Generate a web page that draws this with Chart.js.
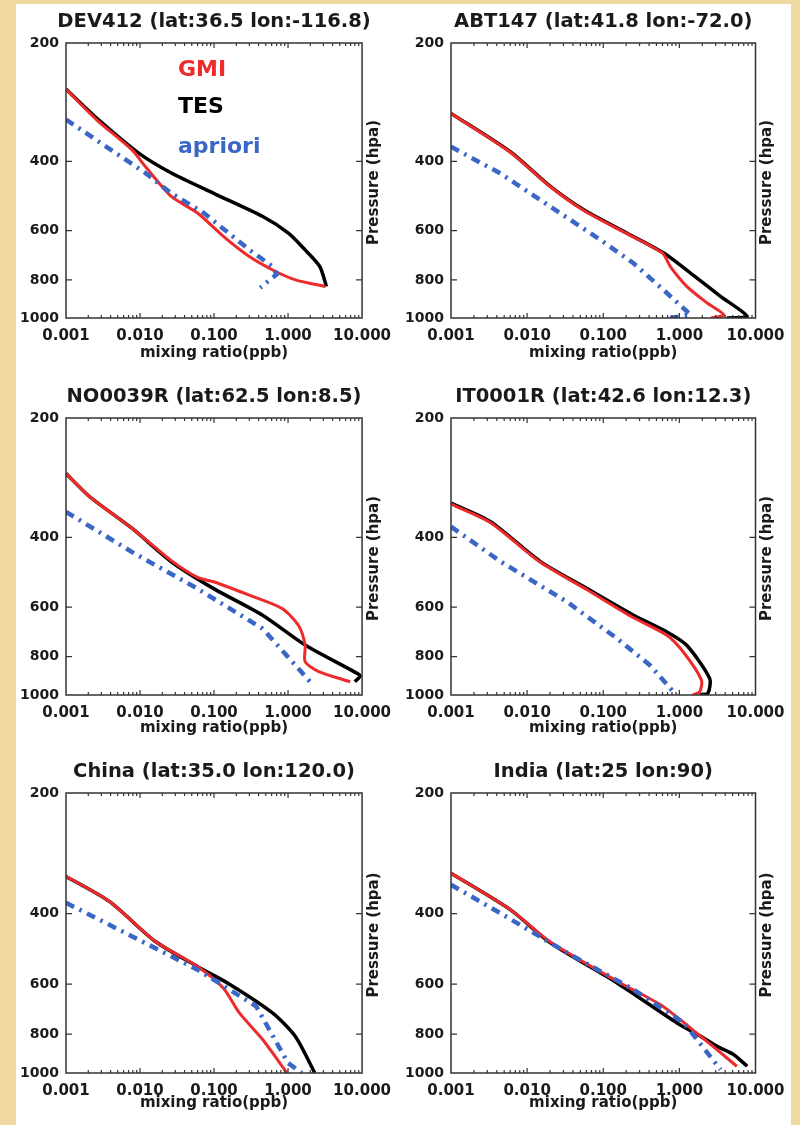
<!DOCTYPE html>
<html>
<head>
<meta charset="utf-8">
<script src="https://cdn.jsdelivr.net/npm/chart.js@4.4.0/dist/chart.umd.min.js"></script>
<style>
  html, body { margin: 0; padding: 0; }
  body { width: 800px; height: 1125px; background: #f0d9a0; position: relative; overflow: hidden; }
  #sheet { position: absolute; left: 16px; top: 4px; width: 775px; height: 1121px; background: #fff; }
  canvas { position: absolute; }
</style>
</head>
<body>
<div id="sheet"></div>
<script>
const FONT = '"DejaVu Sans", "Liberation Sans", sans-serif';

const xTicks = [0.001, 0.01, 0.1, 1, 10];
const yTicks = [200, 400, 600, 800, 1000];
const yInnerTicks = [400, 600, 800];
const decades = [0.001, 0.01, 0.1, 1];

// DEV412
const devTesX = [0.001, 0.00257, 0.0096, 0.0265, 0.099, 0.456, 1.02, 1.7, 2.69, 3.3];
const devTesP = [262, 310, 381, 428, 482, 552, 609, 671, 740, 832];
const devGmiX = [0.001, 0.00257, 0.0078, 0.0118, 0.0265, 0.0598, 0.135, 0.30, 0.62, 1.26, 3.2];
const devGmiP = [262, 313, 374, 412, 491, 541, 621, 698, 755, 800, 832];
const devAprX = [0.001, 0.0118, 0.0265, 0.073, 0.30, 0.62, 0.70, 0.42];
const devAprP = [313, 428, 482, 541, 671, 740, 775, 838];

// ABT147
const abtTesX = [0.001, 0.006, 0.0202, 0.0554, 0.206, 0.624, 1.4, 3.47, 7.77, 4.2];
const abtTesP = [302, 378, 463, 531, 609, 684, 769, 881, 991, 1000];
const abtGmiX = [0.001, 0.006, 0.0202, 0.0554, 0.206, 0.60, 0.76, 1.26, 2.32, 3.84, 2.6];
const abtGmiP = [302, 379, 464, 533, 611, 684, 740, 832, 916, 982, 1000];
const abtAprX = [0.001, 0.00445, 0.0202, 0.0918, 0.25, 0.69, 1.4, 0.76];
const abtAprP = [367, 429, 521, 633, 726, 865, 981, 1000];

// NO0039R
const noTesX = [0.001, 0.00209, 0.00784, 0.0265, 0.099, 0.453, 1.7, 7.77, 9.4, 8.0];
const noTesP = [276, 316, 380, 461, 539, 629, 748, 873, 895, 926];
const noGmiX = [0.001, 0.00209, 0.00784, 0.0265, 0.06, 0.099, 0.30, 0.83, 1.38, 1.7, 1.7, 2.6, 6.9];
const noGmiP = [276, 316, 380, 458, 505, 518, 560, 605, 667, 748, 824, 873, 926];
const noAprX = [0.001, 0.00784, 0.0596, 0.453, 2.08];
const noAprP = [345, 436, 539, 680, 935];

// IT0001R
const itTesX = [0.001, 0.00327, 0.0148, 0.0605, 0.247, 0.676, 1.24, 2.5, 2.37, 1.85];
const itTesP = [328, 365, 460, 538, 628, 692, 748, 908, 990, 1000];
const itGmiX = [0.001, 0.00327, 0.0148, 0.0605, 0.23, 0.676, 1.12, 1.95, 1.85, 1.5];
const itGmiP = [330, 367, 462, 542, 633, 706, 778, 917, 981, 1000];
const itAprX = [0.001, 0.00443, 0.033, 0.15, 0.41, 0.91];
const itAprP = [376, 460, 581, 719, 841, 1000];

// China
const chTesX = [0.001, 0.00385, 0.016, 0.0596, 0.164, 0.616, 1.25, 2.3];
const chTesP = [323, 373, 469, 542, 601, 708, 810, 1000];
const chGmiX = [0.001, 0.00385, 0.016, 0.0596, 0.134, 0.22, 0.453, 0.97];
const chGmiP = [323, 373, 469, 542, 614, 708, 825, 1000];
const chAprX = [0.001, 0.00784, 0.0596, 0.37, 1.0, 1.53];
const chAprP = [376, 456, 552, 681, 944, 1000];

// India
const inTesX = [0.001, 0.006, 0.0202, 0.152, 0.93, 1.89, 3.14, 5.19, 7.77];
const inTesP = [317, 391, 473, 596, 750, 809, 858, 900, 962];
const inGmiX = [0.001, 0.006, 0.0202, 0.152, 0.56, 1.89, 5.7];
const inGmiP = [317, 391, 471, 590, 675, 809, 962];
const inAprX = [0.001, 0.00445, 0.0335, 0.25, 1.15, 3.47];
const inAprP = [339, 399, 501, 619, 750, 981];

const panels = [
  { title: 'DEV412 (lat:36.5 lon:-116.8)', col: 0, row: 0, legend: true,
    tes: [devTesX, devTesP], gmi: [devGmiX, devGmiP], apr: [devAprX, devAprP] },
  { title: 'ABT147 (lat:41.8 lon:-72.0)', col: 1, row: 0,
    tes: [abtTesX, abtTesP], gmi: [abtGmiX, abtGmiP], apr: [abtAprX, abtAprP] },
  { title: 'NO0039R (lat:62.5 lon:8.5)', col: 0, row: 1,
    tes: [noTesX, noTesP], gmi: [noGmiX, noGmiP], apr: [noAprX, noAprP] },
  { title: 'IT0001R (lat:42.6 lon:12.3)', col: 1, row: 1,
    tes: [itTesX, itTesP], gmi: [itGmiX, itGmiP], apr: [itAprX, itAprP] },
  { title: 'China (lat:35.0 lon:120.0)', col: 0, row: 2,
    tes: [chTesX, chTesP], gmi: [chGmiX, chGmiP], apr: [chAprX, chAprP] },
  { title: 'India (lat:25 lon:90)', col: 1, row: 2,
    tes: [inTesX, inTesP], gmi: [inGmiX, inGmiP], apr: [inAprX, inAprP] }
];

const RED = '#ee2a2a';
const BLUE = '#3a66c6';
const BLACK = '#000000';
const INK = '#1a1a1a';

const colLeft = [0, 385];
const colWidth = [400, 410];
const colPadRight = [32, 39.5];
const rowTop = [0, 375, 750];
const rowAxisHeight = [57, 55, 52];

function pts(pair) {
  return pair[0].map((v, i) => ({ x: v, y: pair[1][i] }));
}

// frame, inward tick marks, panel title, right axis label, legend
const panelDecor = {
  id: 'panelDecor',
  afterDatasetsDraw(chart, args, opts) {
    const { ctx, chartArea: a, scales: { x, y } } = chart;
    ctx.save();
    ctx.strokeStyle = '#333';
    ctx.lineWidth = 1.5;
    ctx.strokeRect(a.left, a.top, a.right - a.left, a.bottom - a.top);

    ctx.lineWidth = 1.2;
    ctx.beginPath();
    decades.forEach(d => {
      for (let m = 1; m <= 9; m++) {
        if (d === 0.001 && m === 1) continue;
        const px = x.getPixelForValue(d * m);
        const len = m === 1 ? 5 : 3;
        ctx.moveTo(px, a.bottom); ctx.lineTo(px, a.bottom - len);
        ctx.moveTo(px, a.top); ctx.lineTo(px, a.top + len);
      }
    });
    yInnerTicks.forEach(v => {
      const py = y.getPixelForValue(v);
      ctx.moveTo(a.left, py); ctx.lineTo(a.left + 6, py);
      ctx.moveTo(a.right, py); ctx.lineTo(a.right - 6, py);
    });
    ctx.stroke();

    ctx.fillStyle = INK;
    ctx.textAlign = 'center';
    ctx.textBaseline = 'middle';
    ctx.font = 'bold 19.5px ' + FONT;
    ctx.fillText(opts.title, (a.left + a.right) / 2, 22);

    ctx.save();
    ctx.translate(a.right + 12, (a.top + a.bottom) / 2 + 2);
    ctx.rotate(-Math.PI / 2);
    ctx.font = 'bold 15px ' + FONT;
    ctx.fillText('Pressure (hpa)', 0, 0);
    ctx.restore();

    if (opts.legend) {
      ctx.textAlign = 'left';
      ctx.font = 'bold 22px ' + FONT;
      const order = ['GMI', 'TES', 'apriori'];
      const rows = [70, 107, 147];
      order.forEach((name, i) => {
        const ds = chart.data.datasets.find(d => d.label === name);
        ctx.fillStyle = ds.borderColor;
        ctx.fillText(name, 178, rows[i]);
      });
    }
    ctx.restore();
  }
};

panels.forEach((p, i) => {
  const canvas = document.createElement('canvas');
  canvas.width = colWidth[p.col];
  canvas.height = 375;
  canvas.style.left = colLeft[p.col] + 'px';
  canvas.style.top = rowTop[p.row] + 'px';
  document.body.appendChild(canvas);

  const tickFont = size => ({ family: FONT, size: size, weight: 'bold' });

  new Chart(canvas.getContext('2d'), {
    type: 'scatter',
    data: {
      datasets: [
        { label: 'apriori', data: pts(p.apr), showLine: true, borderColor: BLUE,
          borderWidth: 4.5, borderDash: [9, 6, 2.5, 6], pointRadius: 0, tension: 0 },
        { label: 'GMI', data: pts(p.gmi), showLine: true, borderColor: RED,
          borderWidth: 3, pointRadius: 0, tension: 0.25 },
        { label: 'TES', data: pts(p.tes), showLine: true, borderColor: BLACK,
          borderWidth: 3.5, pointRadius: 0, tension: 0.25 }
      ]
    },
    options: {
      responsive: false,
      animation: false,
      events: [],
      layout: { padding: { top: 43, right: colPadRight[p.col], left: 0, bottom: 0 } },
      plugins: {
        legend: { display: false },
        tooltip: { enabled: false },
        panelDecor: { title: p.title, legend: !!p.legend }
      },
      scales: {
        x: {
          type: 'logarithmic', position: 'bottom', min: 0.001, max: 10,
          grid: { display: false, drawTicks: false },
          border: { display: false },
          afterBuildTicks: s => { s.ticks = xTicks.map(v => ({ value: v })); },
          afterFit: s => { s.height = rowAxisHeight[p.row]; },
          ticks: {
            autoSkip: false, maxRotation: 0, minRotation: 0, padding: 9,
            color: INK, font: tickFont(15),
            callback: v => Number(v).toFixed(3)
          },
          title: {
            display: true, text: 'mixing ratio(ppb)', color: INK,
            font: tickFont(15), padding: { top: 0, bottom: 13 }
          }
        },
        y: {
          type: 'logarithmic', position: 'left', min: 200, max: 1000, reverse: true,
          grid: { display: false, drawTicks: false },
          border: { display: false },
          afterBuildTicks: s => { s.ticks = yTicks.map(v => ({ value: v })); },
          afterFit: s => { s.width = 66; },
          ticks: {
            autoSkip: false, padding: 7, color: INK, font: tickFont(14),
            callback: v => String(v)
          }
        }
      }
    },
    plugins: [panelDecor]
  });
});
</script>
</body>
</html>
